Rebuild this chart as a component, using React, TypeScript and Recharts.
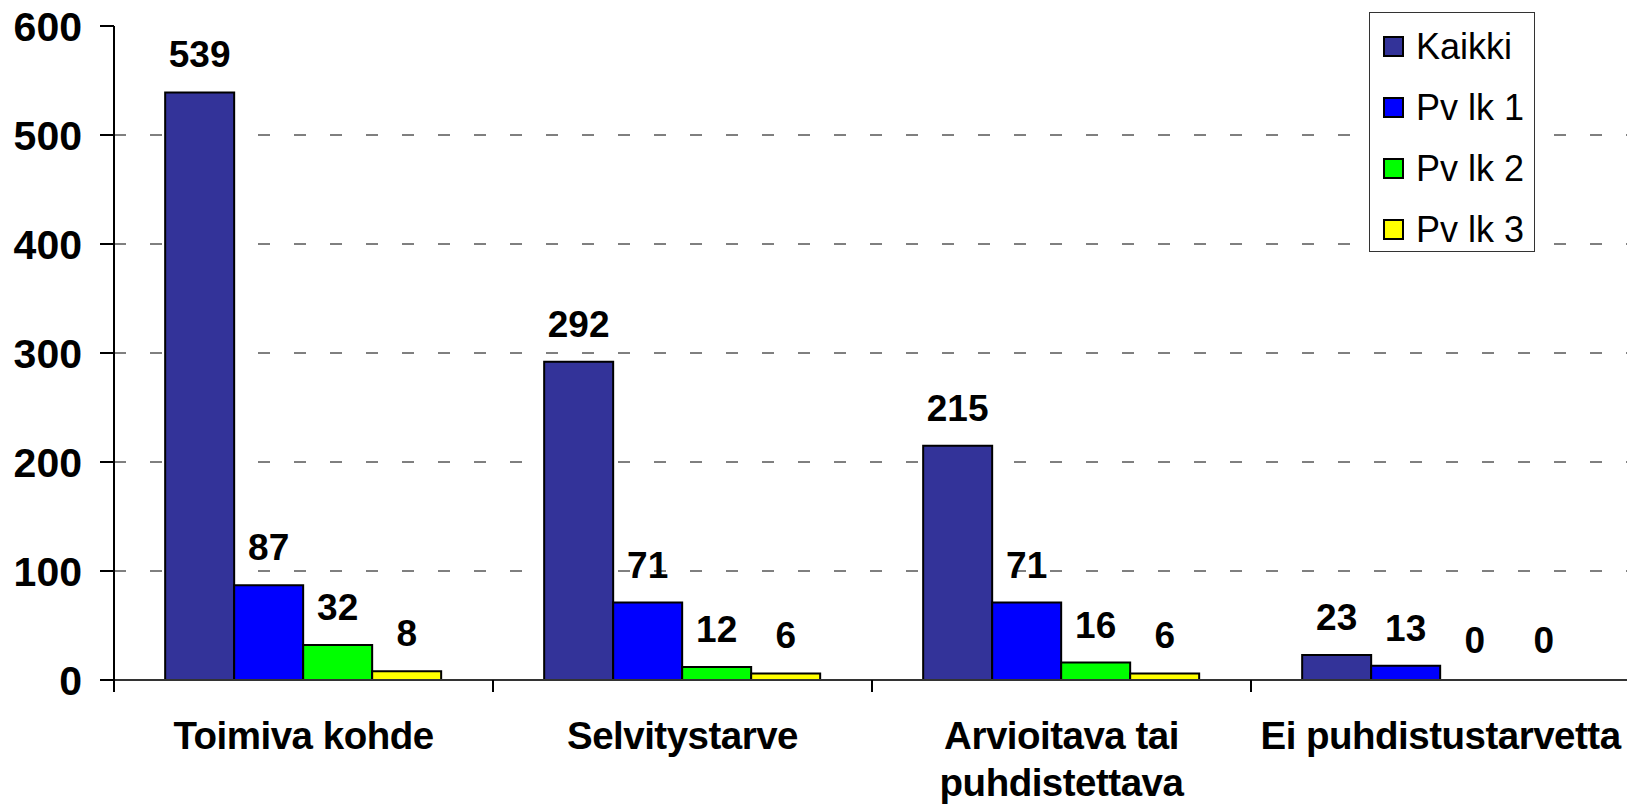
import React from "react";
import {
  BarChart,
  Bar,
  XAxis,
  YAxis,
  CartesianGrid,
  LabelList,
  Legend,
  Rectangle,
} from "recharts";

const categories = [
  "Toimiva kohde",
  "Selvitystarve",
  "Arvioitava tai puhdistettava",
  "Ei puhdistustarvetta",
];
const kaikki = [539, 292, 215, 23];
const pvLk1 = [87, 71, 71, 13];
const pvLk2 = [32, 12, 16, 0];
const pvLk3 = [8, 6, 6, 0];
const yTicks = [0, 100, 200, 300, 400, 500, 600];
const gridValues = [100, 200, 300, 400, 500];

const series = [
  { key: "kaikki", name: "Kaikki", color: "#333399" },
  { key: "pv1", name: "Pv lk 1", color: "#0000ff" },
  { key: "pv2", name: "Pv lk 2", color: "#00ff00" },
  { key: "pv3", name: "Pv lk 3", color: "#ffff00" },
];

const data = categories.map((name, i) => ({
  name,
  kaikki: kaikki[i],
  pv1: pvLk1[i],
  pv2: pvLk2[i],
  pv3: pvLk3[i],
}));

const font = "'Liberation Sans', Arial, sans-serif";

const CHART_W = 1627;
const CHART_H = 797;
const Y_AXIS_W = 106;
const MARGIN = { top: 18, right: 5, bottom: 0, left: 0 };
// half of one category band, for tick marks on the category edges
const HALF_BAND =
  (CHART_W - Y_AXIS_W - MARGIN.left - MARGIN.right) / categories.length / 2;

// greedy word wrap, about 20 characters a line
function wrap(label: string, max = 20) {
  const lines: string[] = [];
  let cur = "";
  label.split(" ").forEach((w) => {
    const next = cur ? cur + " " + w : w;
    if (next.length > max && cur) {
      lines.push(cur);
      cur = w;
    } else {
      cur = next;
    }
  });
  if (cur) lines.push(cur);
  return lines;
}

function CategoryTick({ x, y, payload, index }: any) {
  const lines = wrap(String(payload.value));
  const last = index === categories.length - 1;
  return (
    <g>
      <line x1={x - HALF_BAND} x2={x - HALF_BAND} y1={y} y2={y + 12} stroke="#000" strokeWidth={2} />
      {last && (
        <line x1={x + HALF_BAND} x2={x + HALF_BAND} y1={y} y2={y + 12} stroke="#000" strokeWidth={2} />
      )}
      <text
        x={x}
        y={y + 42}
        textAnchor="middle"
        fill="#000"
        fontSize={38.5}
        fontWeight="bold"
        fontFamily={font}
        letterSpacing={-0.5}
      >
        {lines.map((l, i) => (
          <tspan key={i} x={x} dy={i === 0 ? "0.71em" : 47}>
            {l}
          </tspan>
        ))}
      </text>
    </g>
  );
}

function LegendBox() {
  return (
    <div
      style={{
        width: 166,
        height: 240,
        border: "1px solid #333",
        background: "#fff",
        boxSizing: "border-box",
        fontFamily: font,
        fontSize: 36,
        color: "#000",
        paddingTop: 3,
      }}
    >
      {series.map((s) => (
        <div
          key={s.key}
          style={{ display: "flex", alignItems: "center", height: 61 }}
        >
          <span
            style={{
              display: "inline-block",
              width: 17,
              height: 17,
              background: s.color,
              border: "2px solid #000",
              marginLeft: 13,
              marginRight: 12,
            }}
          />
          <span>{s.name}</span>
        </div>
      ))}
    </div>
  );
}

function BarShape(props: any) {
  // zero values get no visible bar, only their label
  if (!props.value || (Array.isArray(props.value) && props.value[1] === 0)) return <g />;
  return <Rectangle {...props} />;
}

export default function App() {
  return (
    <BarChart
      width={CHART_W}
      height={CHART_H}
      data={data}
      margin={MARGIN}
      barCategoryGap="13.5%"
      barGap={0}
      style={{ overflow: "visible" }}
    >
      <CartesianGrid
        vertical={false}
        horizontalValues={gridValues}
        stroke="#000"
        strokeDasharray="12 24"
      />
      <XAxis
        dataKey="name"
        height={125}
        tickSize={0}
        tickMargin={0}
        tickLine={false}
        axisLine={{ stroke: "#333", strokeWidth: 2 }}
        tick={<CategoryTick />}
        interval={0}
      />
      <XAxis
        xAxisId="top"
        orientation="top"
        dataKey="name"
        height={0}
        tick={false}
        tickLine={false}
        axisLine={{ stroke: "#808080", strokeWidth: 2 }}
      />
      <YAxis
        domain={[0, 600]}
        ticks={yTicks}
        interval={0}
        width={Y_AXIS_W}
        tickSize={14}
        tickMargin={18}
        tickLine={{ stroke: "#000", strokeWidth: 2 }}
        axisLine={{ stroke: "#000", strokeWidth: 2 }}
        tick={{ fontSize: 41, fontWeight: "bold", fill: "#000", fontFamily: font }}
      />
      <YAxis
        yAxisId="right"
        orientation="right"
        domain={[0, 600]}
        width={0}
        tick={false}
        tickLine={false}
        axisLine={{ stroke: "#808080", strokeWidth: 2 }}
      />
      <Legend
        layout="vertical"
        align="center"
        verticalAlign="middle"
        content={<LegendBox />}
        wrapperStyle={{ top: 4, left: 1361, width: 166, height: 240 }}
      />
      {series.map((s) => (
        <Bar
          key={s.key}
          dataKey={s.key}
          name={s.name}
          fill={s.color}
          stroke="#000"
          strokeWidth={2}
          minPointSize={2}
          shape={<BarShape />}
          isAnimationActive={false}
        >
          <LabelList
            dataKey={s.key}
            position="top"
            offset={25}
            fill="#000"
            style={{ fontSize: 37, fontWeight: "bold", fontFamily: font }}
          />
        </Bar>
      ))}
    </BarChart>
  );
}
